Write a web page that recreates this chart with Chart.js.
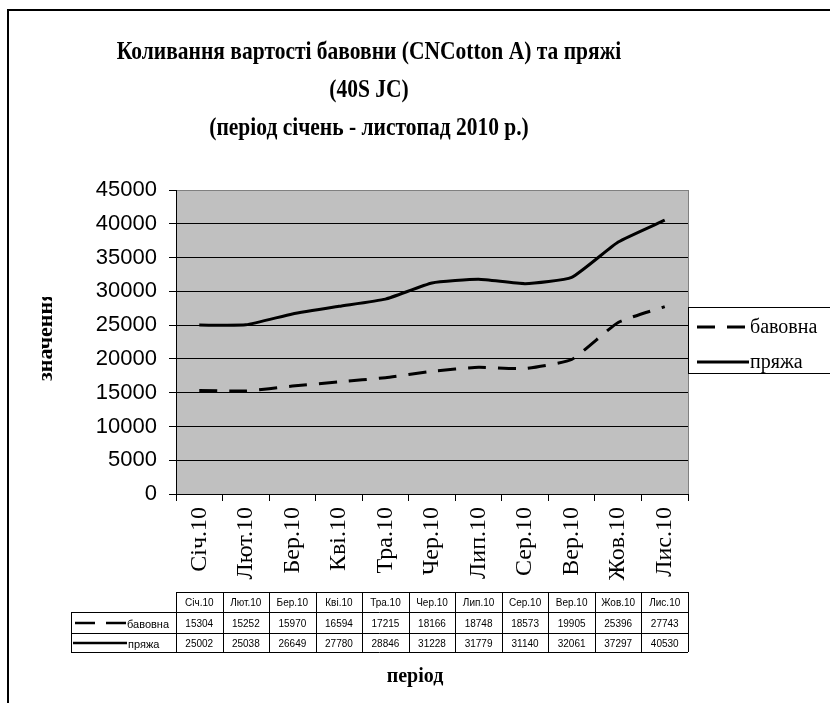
<!DOCTYPE html>
<html><head><meta charset="utf-8">
<script src="https://cdn.jsdelivr.net/npm/chart.js@4.4.1/dist/chart.umd.min.js"></script>
<style>html,body{margin:0;padding:0;background:#fff;overflow:hidden}#wrap{width:830px;height:703px;position:relative}</style>
</head><body><div id="wrap"><canvas id="c" width="830" height="703"></canvas></div>
<script>
const categories = ['Січ.10','Лют.10','Бер.10','Кві.10','Тра.10','Чер.10','Лип.10','Сер.10','Вер.10','Жов.10','Лис.10'];
const cottonValues = [15304,15252,15970,16594,17215,18166,18748,18573,19905,25396,27743];
const yarnValues = [25002,25038,26649,27780,28846,31228,31779,31140,32061,37297,40530];
const seriesNames = ['бавовна','пряжа'];
const yMin = 0, yMax = 45000, yStep = 5000;
const titleLines = ['Коливання вартості бавовни (CNCotton A) та пряжі','(40S JC)','(період січень - листопад 2010 р.)'];
const yTitle = 'значення';
const xTitle = 'період';

const SERIF = '"Liberation Serif","Times New Roman",serif';
const SANS = '"Liberation Sans",Arial,sans-serif';
const DASH = [18,12];

const decor = {
  id:'decor',
  beforeDraw(chart){
    const ctx = chart.ctx, a = chart.chartArea;
    ctx.save();
    ctx.fillStyle = '#fff';
    ctx.fillRect(0,0,chart.width,chart.height);
    ctx.fillStyle = '#c0c0c0';
    ctx.fillRect(a.left,a.top,a.right-a.left,a.bottom-a.top);
    ctx.restore();
  },
  afterDraw(chart){
    const ctx = chart.ctx, a = chart.chartArea, xs = chart.scales.x;
    ctx.save();
    // outer border
    ctx.fillStyle = '#000';
    ctx.fillRect(7,9,830,2);
    ctx.fillRect(7,9,2,700);
    // plot right border
    ctx.strokeStyle = '#808080';
    ctx.lineWidth = 1;
    ctx.beginPath();
    ctx.moveTo(a.right+0.5,a.top); ctx.lineTo(a.right+0.5,a.bottom);
    ctx.stroke();
    // title (condensed bold serif)
    ctx.fillStyle = '#000';
    ctx.font = 'bold 25px ' + SERIF;
    ctx.textAlign = 'center';
    ctx.textBaseline = 'middle';
    const ty = [53, 91, 129];
    titleLines.forEach((t,i)=>{
      ctx.save();
      ctx.translate(369, ty[i]);
      ctx.scale(0.86, 1);
      ctx.fillText(t, 0, 0);
      ctx.restore();
    });
    // y title (clipped as in the original)
    ctx.save();
    ctx.beginPath(); ctx.rect(0, 297, 120, 200); ctx.clip();
    ctx.translate(46, 381);
    ctx.rotate(-Math.PI/2);
    ctx.font = 'bold 22px ' + SERIF;
    ctx.textAlign = 'left';
    ctx.textBaseline = 'middle';
    ctx.fillText(yTitle, 0, 0);
    ctx.restore();
    // x title
    ctx.font = 'bold 20px ' + SERIF;
    ctx.textAlign = 'center';
    ctx.textBaseline = 'middle';
    ctx.fillText(xTitle, 415, 677);
    // legend
    const lx = 688, ly = 307, lh = 66;
    ctx.strokeStyle = '#000';
    ctx.lineWidth = 1;
    ctx.strokeRect(lx+0.5, ly+0.5, 200, lh);
    ctx.lineWidth = 3;
    ctx.setLineDash(DASH);
    ctx.beginPath(); ctx.moveTo(697,327); ctx.lineTo(749,327); ctx.stroke();
    ctx.setLineDash([]);
    ctx.beginPath(); ctx.moveTo(697,362); ctx.lineTo(749,362); ctx.stroke();
    ctx.font = '20px ' + SERIF;
    ctx.textAlign = 'left';
    ctx.fillText(seriesNames[0], 750, 328);
    ctx.fillText(seriesNames[1], 750, 363);
    // data table
    const step = xs.getPixelForValue(1) - xs.getPixelForValue(0);
    const left0 = xs.getPixelForValue(0) - step/2;
    const right0 = left0 + step*categories.length;
    const hTop = 592, r1 = 612, r2 = 633, r3 = 652, rhLeft = 71;
    ctx.lineWidth = 1;
    ctx.strokeStyle = '#000';
    ctx.beginPath();
    ctx.moveTo(left0, hTop+0.5); ctx.lineTo(right0, hTop+0.5);
    ctx.moveTo(rhLeft, r1+0.5); ctx.lineTo(right0, r1+0.5);
    ctx.moveTo(rhLeft, r2+0.5); ctx.lineTo(right0, r2+0.5);
    ctx.moveTo(rhLeft, r3+0.5); ctx.lineTo(right0, r3+0.5);
    ctx.moveTo(rhLeft+0.5, r1); ctx.lineTo(rhLeft+0.5, r3);
    for (let i=0;i<=categories.length;i++){
      const x = Math.round(left0 + i*step)+0.5;
      ctx.moveTo(x, hTop); ctx.lineTo(x, r3);
    }
    ctx.stroke();
    ctx.font = '10px ' + SANS;
    ctx.textAlign = 'center';
    ctx.textBaseline = 'middle';
    categories.forEach((c,i)=>{
      const cx = xs.getPixelForValue(i);
      ctx.fillText(c, cx, 603);
      ctx.fillText(String(cottonValues[i]), cx, 624);
      ctx.fillText(String(yarnValues[i]), cx, 644);
    });
    ctx.textAlign = 'left';
    ctx.font = '11px ' + SANS;
    ctx.fillText(seriesNames[0], 127, 625);
    ctx.fillText(seriesNames[1], 128, 645);
    ctx.lineWidth = 2.5;
    ctx.beginPath(); ctx.moveTo(75,623); ctx.lineTo(95,623); ctx.moveTo(106,623); ctx.lineTo(126,623); ctx.stroke();
    ctx.beginPath(); ctx.moveTo(73,643); ctx.lineTo(127,643); ctx.stroke();
    ctx.restore();
  }
};

new Chart(document.getElementById('c'), {
  type:'line',
  data:{
    labels: categories,
    datasets:[
      {label: seriesNames[0], data: cottonValues, borderColor:'#000', borderWidth:3, borderDash:DASH, pointRadius:0, tension:0.15, fill:false},
      {label: seriesNames[1], data: yarnValues, borderColor:'#000', borderWidth:3, pointRadius:0, tension:0.15, fill:false}
    ]
  },
  options:{
    responsive:false,
    animation:false,
    devicePixelRatio:1,
    layout:{padding:{left:0, top:190, right:142, bottom:0}},
    plugins:{legend:{display:false}, title:{display:false}, tooltip:{enabled:false}},
    scales:{
      x:{
        offset:true,
        grid:{offset:true, drawOnChartArea:false, drawTicks:true, tickLength:7, color:'#000', tickColor:'#000'},
        border:{color:'#000', width:1},
        ticks:{minRotation:90, maxRotation:90, autoSkip:false, padding:6, color:'#000', font:{family:SERIF, size:24}},
        afterFit(s){ s.height = 209; }
      },
      y:{
        min:yMin, max:yMax,
        grid:{color:(c)=> (c.tick && c.tick.value===yMax) ? '#808080' : '#000', tickColor:'#000', tickLength:7, lineWidth:1},
        border:{color:'#000', width:1},
        ticks:{stepSize:yStep, padding:12, color:'#000', font:{family:SANS, size:22}, callback:(v)=>String(v)},
        afterFit(s){ s.width = 176; }
      }
    }
  },
  plugins:[decor]
});
</script></body></html>
